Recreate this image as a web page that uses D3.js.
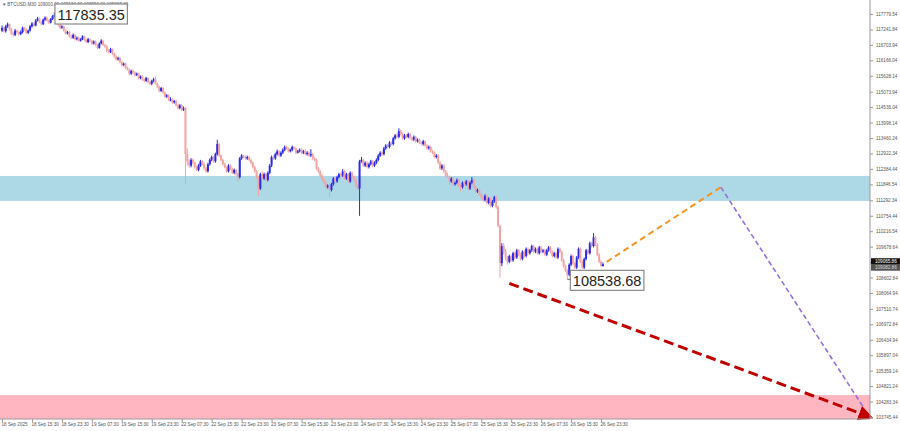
<!DOCTYPE html>
<html><head><meta charset="utf-8">
<script src="https://cdnjs.cloudflare.com/ajax/libs/d3/7.8.5/d3.min.js"></script>
<style>
html,body{margin:0;padding:0;background:#fff;}
svg{display:block;font-family:"Liberation Sans",Arial,sans-serif;}
</style></head>
<body><svg id="c" width="900" height="431"></svg>
<script>
// ---------- DATA ----------
const symbolTitle = "BTCUSD,M30  109000.00 109130.00 108990.00 109065.86";
const firstOpen = 117200;
const closes = [
117300,117180,117350,117420,117250,117100,117050,117200,117150,117080,
117150,117300,117250,117120,117200,117350,117450,117380,117550,117620,
117500,117420,117580,117650,117550,117480,117600,117700,117750,117520,
117400,117300,117350,117200,117100,117150,117000,116950,117050,116900,
116950,116850,116900,117000,116880,116800,116900,116850,116750,116820,
116700,116600,116750,116850,116700,116650,116500,116450,116550,116400,
116300,116200,116250,116100,116000,116050,115900,115850,115700,115800,
115750,115650,115700,115550,115600,115500,115450,115550,115400,115350,
115450,115500,115350,115250,115100,115200,115050,114900,114950,114800,
114800,114700,114750,114600,114500,114600,114450,114500,112900,112650,
112500,112700,112600,112450,112350,112500,112650,112550,112400,112300,
112550,112700,112800,112650,112900,113250,112850,112700,112550,112450,
112300,112500,112400,112250,112350,112200,112100,112750,112850,112800,
112750,112800,112700,112600,112450,112300,112100,111700,112200,112050,
112200,112000,112250,112500,112800,112750,112900,113000,112850,112950,
113050,113150,113100,113000,113050,113150,113100,112950,113000,113050,
112950,113000,112900,112950,112850,112900,112750,112700,112400,112300,
112150,112000,111900,111750,111800,111650,111850,112050,111950,112100,
112200,112150,112300,112050,112200,111950,112250,112100,112000,111800,
111700,112650,112700,112500,112600,112450,112550,112650,112500,112600,
112700,112850,112950,112900,113100,113200,113150,113300,113250,113450,
113550,113500,113700,113600,113450,113550,113500,113600,113450,113400,
113500,113350,113400,113300,113250,113350,113200,113100,113150,113000,
112950,112800,112850,112600,112400,112500,112300,112150,112100,111950,
112050,111850,111900,112000,111800,111750,111900,111850,111950,111700,
111900,112000,111750,111600,111650,111500,111400,111300,111450,111200,
111350,111100,111250,111400,111050,110400,109100,109700,109500,109300,
109150,109350,109200,109450,109300,109550,109400,109250,109500,109350,
109600,109450,109550,109700,109500,109600,109450,109650,109500,109550,
109400,109550,109650,109500,109350,109450,109300,109600,109500,109200,
109000,108850,108700,109050,109350,109100,108950,109300,109600,109150,
108950,109250,109550,109450,109800,109700,110000,109750,109400,109150,109000,109065.86
];
const highs = [
117380,117340,117400,117480,117450,117290,117160,117260,117240,117190,
117210,117340,117330,117280,117240,117400,117500,117480,117600,117680,
117660,117540,117620,117700,117690,117590,117640,117740,117835.35,117780,
117560,117450,117390,117380,117240,117190,117200,117060,117100,117090,
117000,116980,116940,117040,117030,116920,116950,116930,116880,116860,
116860,116740,116790,116900,116880,116740,116690,116560,116600,116580,
116430,116340,116290,116300,116140,116090,116080,115950,115880,115840,
115850,115790,115740,115730,115640,115650,115540,115590,115580,115440,
115490,115560,115600,115380,115290,115240,115230,115090,114990,114980,
114880,114850,114790,114800,114650,114640,114650,114560,114540,113100,
112720,112760,112750,112640,112500,112560,112700,112690,112600,112450,
112600,112750,112850,112830,112950,113400,113300,112900,112740,112600,
112480,112550,112540,112430,112400,112380,112250,112800,112900,112880,
112850,112850,112840,112740,112650,112500,112350,112150,112250,112300,
112260,112240,112300,112550,112850,112860,112950,113060,113040,113000,
113100,113200,113190,113130,113090,113200,113180,113130,113050,113100,
113100,113050,113080,113000,112990,113070,112950,112800,112750,112450,
112350,112200,112050,111950,111850,111850,111900,112100,112100,112150,
112250,112250,112380,112350,112250,112240,112300,112300,112150,112050,
111850,112700,112800,112750,112650,112650,112600,112700,112700,112650,
112750,112900,113000,113000,113150,113250,113250,113350,113350,113500,
113600,113620,113800,113760,113650,113600,113600,113650,113640,113500,
113550,113540,113450,113450,113350,113400,113380,113250,113200,113200,
113050,113000,112900,112900,112650,112550,112550,112350,112250,112150,
112100,112100,111950,112050,112050,111850,111950,111950,112000,112000,
111950,112100,112050,111800,111700,111700,111550,111450,111500,111500,
111400,111400,111300,111450,111450,111100,110450,109800,109800,109600,
109350,109400,109400,109500,109500,109600,109600,109450,109550,109550,
109650,109650,109600,109750,109750,109650,109650,109700,109700,109600,
109600,109600,109700,109700,109550,109500,109500,109650,109650,109550,
109250,109050,108900,109100,109400,109400,109150,109350,109650,109650,
109200,109300,109600,109600,109850,109850,110150,110050,109800,109450,109200,109130
];
const lows = [
117150,117140,117130,117300,117200,117050,116980,117010,117100,117030,
117040,117100,117200,117080,117090,117170,117310,117340,117350,117520,
117460,117380,117400,117540,117510,117430,117450,117570,117660,117480,
117350,117250,117260,117160,117060,117070,116960,116900,116910,116860,
116860,116810,116820,116870,116840,116760,116770,116800,116700,116720,
116660,116550,116570,116720,116660,116600,116460,116400,116420,116350,
116250,116150,116160,116060,115950,115960,115850,115800,115640,115660,
115700,115600,115620,115500,115510,115450,115400,115420,115360,115300,
115300,115400,115320,115200,115050,115060,115000,114860,114860,114750,
114740,114650,114660,114560,114450,114460,114400,114400,111850,112500,
112420,112440,112550,112400,112300,112300,112450,112500,112350,112250,
112260,112500,112650,112600,112600,112850,112800,112650,112500,112400,
112250,112260,112350,112200,112200,112150,111950,112050,112700,112750,
112700,112700,112650,112550,112400,112250,112050,111440,111650,112000,
112000,111950,111950,112200,112450,112700,112700,112850,112800,112800,
112900,113000,113060,112960,112960,113000,113050,112900,112920,112960,
112900,112900,112860,112850,112800,112800,112700,112650,112350,112250,
112100,111950,111850,111700,111700,111400,111600,111800,111900,111900,
112050,112100,112100,112000,112000,111900,111900,112050,111950,111750,
111650,110750,112600,112450,112450,112400,112400,112500,112450,112450,
112550,112650,112800,112850,112850,113050,113100,113100,113200,113200,
113400,113450,113450,113550,113400,113400,113450,113450,113400,113350,
113350,113300,113300,113250,113200,113200,113150,113050,113050,112950,
112900,112750,112750,112550,112350,112350,112250,112100,112050,111850,
111900,111800,111800,111850,111750,111600,111700,111800,111800,111650,
111650,111850,111700,111550,111550,111450,111350,111250,111250,111150,
111150,111050,111050,111200,111000,110350,108600,109000,109400,109200,
109050,109100,109150,109150,109250,109250,109350,109200,109200,109300,
109300,109400,109400,109500,109450,109450,109400,109400,109450,109450,
109350,109350,109500,109450,109300,109300,109250,109250,109450,109150,
108950,108800,108538.68,108650,109000,109050,108900,108900,109250,109100,
108900,108900,109200,109400,109400,109650,109650,109700,109350,109100,108980,108990
];
const timeLabels = ["18 Sep 2025","18 Sep 15:30","18 Sep 23:30","19 Sep 07:30","19 Sep 15:30","19 Sep 23:30",
"22 Sep 07:30","22 Sep 15:30","22 Sep 23:30","23 Sep 07:30","23 Sep 15:30","23 Sep 23:30",
"24 Sep 07:30","24 Sep 15:30","24 Sep 23:30","25 Sep 07:30","25 Sep 15:30","25 Sep 23:30",
"26 Sep 07:30","26 Sep 15:30","26 Sep 23:30"];
const barsPerTimeLabel = 16;
const priceLabels = [117779.54,117241.84,116703.94,116166.04,115628.14,115073.94,114536.04,113998.14,
113460.24,112922.34,112384.44,111846.54,111292.34,110754.44,110216.54,109678.64,109140.74,108602.84,
108064.94,107510.74,106972.84,106434.94,105897.04,105359.14,104821.24,104283.34,103745.44];
const blueZone = [111270, 112140];
const pinkZone = [103690, 104510];
const orangePath = [[323,109150],[384,111750]];
const purplePath = [[384,111750],[460,104100]];
const redPath = [[271,108400],[464,103740]];
const highLabel = {i:28, p:117835.35};
const lowLabel = {i:302, p:108538.68};
const currentPrices = [109065.86, 109082.86];

// ---------- CHART ----------
const svg = d3.select("#c");
const plotR = 870, plotB = 419;
const x = d3.scaleLinear().domain([0,464]).range([2, 2+464*1.872]);
const y = d3.scaleLinear().domain([103745.44,117779.54]).range([417,14]);

const g = svg.append("g");
g.append("rect").attr("x",0).attr("y",y(pinkZone[1])).attr("width",plotR).attr("height",plotB-y(pinkZone[1])).attr("fill","#ffb6c1");
g.append("rect").attr("x",0).attr("y",y(blueZone[1])).attr("width",plotR).attr("height",y(blueZone[0])-y(blueZone[1])).attr("fill","#add8e6");

const bars = closes.map((c,i)=>({i, o: i===0?firstOpen:closes[i-1], c, h: highs[i], l: lows[i]}));
const bull = "#2a2ae6", bear = "#f2a3a3";
const cg = g.append("g");
cg.selectAll("line.w").data(bars).join("line")
  .attr("x1",d=>x(d.i)).attr("x2",d=>x(d.i))
  .attr("y1",d=>y(Math.max(d.h,d.o,d.c))).attr("y2",d=>y(Math.min(d.l,d.o,d.c)))
  .attr("stroke",d=>d.c>=d.o?bull:bear).attr("stroke-width",1);
cg.selectAll("rect.b").data(bars).join("rect")
  .attr("x",d=>x(d.i)-1).attr("width",2)
  .attr("y",d=>y(Math.max(d.o,d.c)))
  .attr("height",d=>Math.max(1,Math.abs(y(d.o)-y(d.c))))
  .attr("fill",d=>d.c>=d.o?bull:bear);

// projection lines
const line = d3.line().x(d=>x(d[0])).y(d=>y(d[1]));
svg.append("defs").append("marker").attr("id","ah").attr("viewBox","0 0 10 10")
  .attr("refX",8).attr("refY",5).attr("markerWidth",5).attr("markerHeight",5).attr("orient","auto")
  .attr("markerUnits","strokeWidth")
  .append("path").attr("d","M0,0 L10,5 L0,10 z").attr("fill","#c00000");
g.append("path").attr("d",line(orangePath)).attr("fill","none").attr("stroke","#f7941d").attr("stroke-width",2).attr("stroke-dasharray","6,4");
g.append("path").attr("d",line(purplePath)).attr("fill","none").attr("stroke","#9370db").attr("stroke-width",1.6).attr("stroke-dasharray","5,3");
g.append("path").attr("d",line(redPath)).attr("fill","none").attr("stroke","#c00000").attr("stroke-width",3).attr("stroke-dasharray","10,5").attr("marker-end","url(#ah)");

// axes
const xa = d3.axisBottom(x).tickValues(timeLabels.map((t,k)=>k*barsPerTimeLabel))
  .tickFormat((d,k)=>timeLabels[k]).tickSize(3).tickSizeOuter(0);
const xg = svg.append("g").attr("transform",`translate(0,${plotB})`).call(xa);
xg.select(".domain").attr("d",`M0,0H${plotR}`).attr("stroke","#999");
xg.selectAll(".tick line").attr("stroke","#999");
xg.selectAll(".tick text").attr("text-anchor","start").attr("x",-1).attr("y",4).attr("dy","0.71em")
  .attr("font-size","4.6px").attr("fill","#555").attr("font-family","Liberation Sans, Arial, sans-serif");

const ya = d3.axisRight(y).tickValues(priceLabels).tickFormat(d=>d.toFixed(2)).tickSize(3).tickSizeOuter(0);
const yg = svg.append("g").attr("transform",`translate(${plotR},0)`).call(ya);
yg.select(".domain").attr("d",`M0,0V${plotB}`).attr("stroke","#999");
yg.selectAll(".tick line").attr("stroke","#999");
yg.selectAll(".tick text").attr("x",6).attr("font-size","4.6px").attr("fill","#555").attr("font-family","Liberation Sans, Arial, sans-serif");

// current price box
const cy = y(currentPrices[0]);
const cb = svg.append("g");
cb.append("rect").attr("x",plotR+1).attr("y",cy-6).attr("width",29).attr("height",6.5).attr("fill","#111");
cb.append("rect").attr("x",plotR+1).attr("y",cy+0.5).attr("width",29).attr("height",6).attr("fill","#555");
cb.append("text").attr("x",plotR+5).attr("y",cy-1.3).attr("font-size","4.6px").attr("fill","#fff").text(currentPrices[0].toFixed(2));
cb.append("text").attr("x",plotR+5).attr("y",cy+5).attr("font-size","4.6px").attr("fill","#ddd").text(currentPrices[1].toFixed(2));

// title
svg.append("text").attr("x",3).attr("y",6).attr("font-size","4.6px").attr("fill","#555").text("▾ "+symbolTitle);

// price labels (high/low)
function priceBox(px, py, bx, by, txt){
  const gg = svg.append("g");
  gg.append("line").attr("x1",px).attr("y1",py).attr("x2",bx).attr("y2",py).attr("stroke","#666").attr("stroke-width",1);
  const t = gg.append("text").attr("x",bx+2.5).attr("y",by+15.5).attr("font-size","14.5px").attr("fill","#222").text(txt);
  const w = t.node().getComputedTextLength();
  gg.insert("rect","text").attr("x",bx).attr("y",by).attr("width",w+5).attr("height",20)
    .attr("fill","#fff").attr("stroke","#8a8a8a").attr("stroke-width",1.2);
}
priceBox(x(highLabel.i), y(highLabel.p), x(highLabel.i)+0.5, 4, highLabel.p.toFixed(2));
priceBox(x(lowLabel.i), y(lowLabel.p), x(lowLabel.i)+3, y(lowLabel.p)-9, lowLabel.p.toFixed(2));
</script></body></html>
